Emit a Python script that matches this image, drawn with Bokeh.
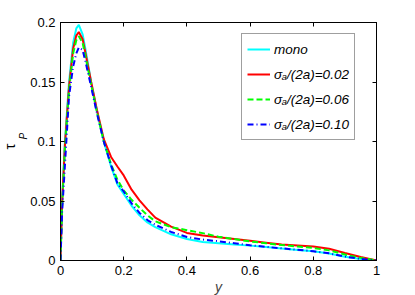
from bokeh.plotting import figure
from bokeh.models import FixedTicker, LinearAxis, Legend, LegendItem, Title, Range1d
from bokeh.embed import file_html
from bokeh.resources import INLINE

# ---- data ----
x_vals = [0, 0.005, 0.014, 0.027, 0.04, 0.05, 0.058, 0.07, 0.08, 0.097, 0.115, 0.137, 0.16,
          0.18, 0.2, 0.225, 0.25, 0.275, 0.3, 0.35, 0.4, 0.45, 0.5, 0.55, 0.6, 0.65, 0.7,
          0.75, 0.8, 0.85, 0.9, 0.95, 1.0]
mono = [0, 0.05, 0.1, 0.15, 0.183, 0.195, 0.198, 0.19, 0.176, 0.15, 0.126, 0.1, 0.079,
        0.064, 0.056, 0.046, 0.038, 0.032, 0.028, 0.022, 0.018, 0.0155, 0.0145, 0.0135, 0.0125, 0.0113, 0.0101,
        0.0089, 0.0077, 0.0058, 0.0032, 0.0012, 0]
s002 = [0, 0.048, 0.097, 0.146, 0.178, 0.189, 0.192, 0.186, 0.173, 0.150, 0.127, 0.102, 0.087,
        0.079, 0.0715, 0.0595, 0.0506, 0.043, 0.036, 0.0285, 0.0232, 0.021, 0.0195, 0.018, 0.0165, 0.015, 0.0135,
        0.0127, 0.0118, 0.0098, 0.0063, 0.003, 0]
s006 = [0, 0.045, 0.094, 0.143, 0.174, 0.185, 0.1885, 0.183, 0.170, 0.148, 0.125, 0.1, 0.081,
        0.068, 0.059, 0.051, 0.0443, 0.038, 0.033, 0.028, 0.0255, 0.023, 0.020, 0.018, 0.016, 0.0145, 0.013,
        0.0118, 0.0105, 0.0085, 0.005, 0.0022, 0]
s010 = [0, 0.04, 0.08, 0.138, 0.163, 0.174, 0.179, 0.177, 0.166, 0.146, 0.124, 0.1, 0.08,
        0.065, 0.058, 0.048, 0.040, 0.034, 0.030, 0.024, 0.0198, 0.0176, 0.0162, 0.0145, 0.0128, 0.0115, 0.0102,
        0.009, 0.0078, 0.006, 0.0033, 0.0013, 0]

series_labels = ["mono", "σₐ/(2a)=0.02", "σₐ/(2a)=0.06", "σₐ/(2a)=0.10"]

x_ticks = [0, 0.2, 0.4, 0.6, 0.8, 1.0]
x_tick_labels = ["0", "0.2", "0.4", "0.6", "0.8", "1"]
y_ticks = [0, 0.05, 0.1, 0.15, 0.2]
y_tick_labels = ["0", "0.05", "0.1", "0.15", "0.2"]

FONT = "Liberation Sans"

p = figure(frame_width=316, frame_height=238,
           x_range=Range1d(0, 1), y_range=Range1d(0, 0.2),
           output_backend="svg", toolbar_location=None,
           min_border_left=60, min_border_right=20, min_border_top=22, min_border_bottom=20)

p.xgrid.visible = False
p.ygrid.visible = False
p.outline_line_color = "black"
p.outline_line_width = 1
p.background_fill_color = "white"
p.border_fill_color = "white"

def style_axis(ax, ticks, labels, show_labels=True):
    ax.ticker = FixedTicker(ticks=ticks)
    if show_labels:
        ax.major_label_overrides = {t: l for t, l in zip(ticks, labels)}
    else:
        ax.major_label_overrides = {t: "" for t in ticks}
    ax.major_tick_in = 4
    ax.major_tick_out = 0
    ax.minor_tick_line_color = None
    ax.axis_line_color = "black"
    ax.major_tick_line_color = "black"
    ax.major_label_text_font = FONT
    ax.major_label_text_font_size = "13px"
    ax.major_label_text_color = "black"
    ax.major_label_standoff = 5

style_axis(p.xaxis[0], x_ticks, x_tick_labels)
style_axis(p.yaxis[0], y_ticks, y_tick_labels)
p.xaxis[0].axis_label = "y"
p.xaxis[0].axis_label_text_font = FONT
p.xaxis[0].axis_label_text_font_style = "italic"
p.xaxis[0].axis_label_text_font_size = "14px"
p.xaxis[0].axis_label_standoff = 1

top_ax = LinearAxis()
style_axis(top_ax, x_ticks, x_tick_labels, show_labels=False)
p.add_layout(top_ax, "above")
right_ax = LinearAxis()
style_axis(right_ax, y_ticks, y_tick_labels, show_labels=False)
p.add_layout(right_ax, "right")

r_mono = p.line(x_vals, mono, line_color="#00FFFF", line_width=2)
r_002 = p.line(x_vals, s002, line_color="#FF0000", line_width=2)
r_006 = p.line(x_vals, s006, line_color="#00FF00", line_width=2, line_dash="6 3")
r_010 = p.line(x_vals, s010, line_color="#0000FF", line_width=2, line_dash="6 3 1 3")

legend = Legend(items=[LegendItem(label=series_labels[0], renderers=[r_mono]),
                       LegendItem(label=series_labels[1], renderers=[r_002]),
                       LegendItem(label=series_labels[2], renderers=[r_006]),
                       LegendItem(label=series_labels[3], renderers=[r_010])],
                location=(181, 120), margin=0, padding=5, spacing=5,
                label_height=20, glyph_height=20, glyph_width=23, label_standoff=4,
                label_text_font=FONT, label_text_font_style="italic",
                label_text_font_size="13.5px", label_text_color="black",
                border_line_color="#404040", border_line_width=1,
                background_fill_color="white", background_fill_alpha=1)
p.add_layout(legend)

# y axis label: tau with subscript P (two stacked side titles)
t_sub = Title(text="P", align="left", offset=121, standoff=-2,
              text_font=FONT, text_font_style="italic", text_font_size="10px",
              text_color="black")
t_tau = Title(text="τ", align="left", offset=111, standoff=-3,
              text_font=FONT, text_font_style="normal", text_font_size="15px",
              text_color="black")
p.add_layout(t_sub, "left")
p.add_layout(t_tau, "left")

open("out.html", "w").write(file_html(p, INLINE))
